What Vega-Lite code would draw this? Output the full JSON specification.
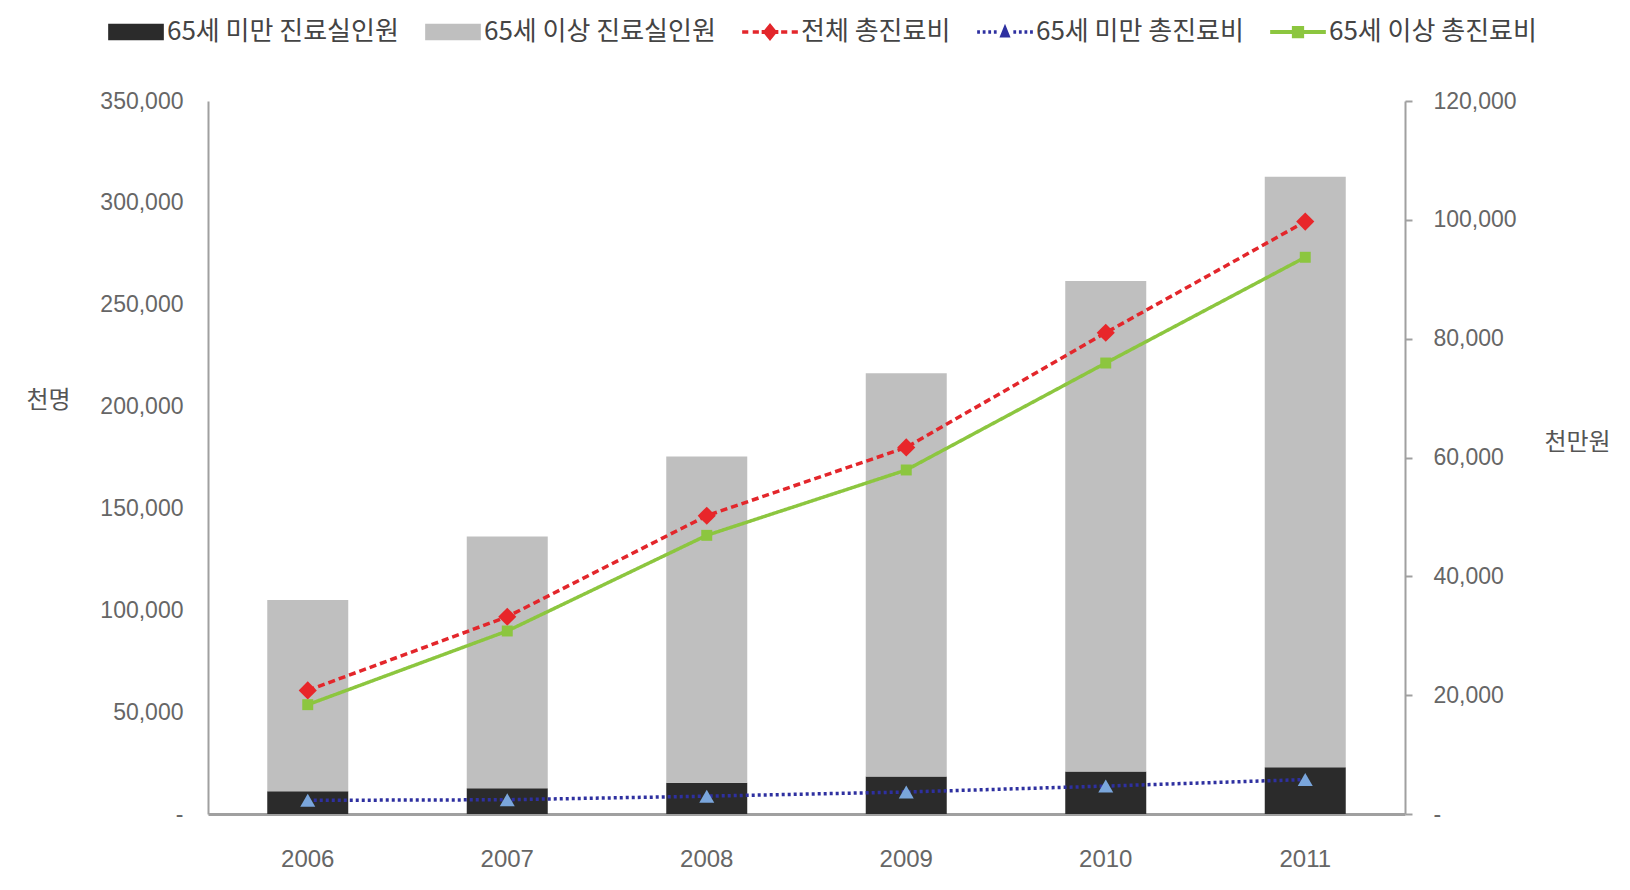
{
  "$schema": "https://vega.github.io/schema/vega-lite/v6.json",
  "width": 1197,
  "height": 713,
  "autosize": "none",
  "padding": {"left": 208, "top": 101, "right": 225, "bottom": 76},
  "background": "white",
  "config": {
    "font": "Noto Sans CJK KR",
    "view": {"stroke": null},
    "axis": {"labelFont": "Liberation Sans", "labelColor": "#666666", "labelFontSize": 23, "titleFont": "Noto Sans CJK KR", "titleColor": "#555555", "titleFontSize": 24, "titleFontWeight": "normal", "grid": false}
  },
  "datasets": {
    "people": [
      {"year": "2006", "series": "65세 미만 진료실인원", "value": 11200, "ord": 1},
      {"year": "2006", "series": "65세 이상 진료실인원", "value": 93900, "ord": 2},
      {"year": "2007", "series": "65세 미만 진료실인원", "value": 12700, "ord": 1},
      {"year": "2007", "series": "65세 이상 진료실인원", "value": 123500, "ord": 2},
      {"year": "2008", "series": "65세 미만 진료실인원", "value": 15300, "ord": 1},
      {"year": "2008", "series": "65세 이상 진료실인원", "value": 160200, "ord": 2},
      {"year": "2009", "series": "65세 미만 진료실인원", "value": 18400, "ord": 1},
      {"year": "2009", "series": "65세 이상 진료실인원", "value": 197900, "ord": 2},
      {"year": "2010", "series": "65세 미만 진료실인원", "value": 20900, "ord": 1},
      {"year": "2010", "series": "65세 이상 진료실인원", "value": 240800, "ord": 2},
      {"year": "2011", "series": "65세 미만 진료실인원", "value": 23000, "ord": 1},
      {"year": "2011", "series": "65세 이상 진료실인원", "value": 289800, "ord": 2}
    ],
    "cost": [
      {"year": "2006", "series": "전체 총진료비", "value": 20800},
      {"year": "2007", "series": "전체 총진료비", "value": 33200},
      {"year": "2008", "series": "전체 총진료비", "value": 50200},
      {"year": "2009", "series": "전체 총진료비", "value": 61700},
      {"year": "2010", "series": "전체 총진료비", "value": 81000},
      {"year": "2011", "series": "전체 총진료비", "value": 99700},
      {"year": "2006", "series": "65세 미만 총진료비", "value": 2300},
      {"year": "2007", "series": "65세 미만 총진료비", "value": 2400},
      {"year": "2008", "series": "65세 미만 총진료비", "value": 3000},
      {"year": "2009", "series": "65세 미만 총진료비", "value": 3700},
      {"year": "2010", "series": "65세 미만 총진료비", "value": 4700},
      {"year": "2011", "series": "65세 미만 총진료비", "value": 5800},
      {"year": "2006", "series": "65세 이상 총진료비", "value": 18400},
      {"year": "2007", "series": "65세 이상 총진료비", "value": 30800},
      {"year": "2008", "series": "65세 이상 총진료비", "value": 46900},
      {"year": "2009", "series": "65세 이상 총진료비", "value": 57900},
      {"year": "2010", "series": "65세 이상 총진료비", "value": 75900},
      {"year": "2011", "series": "65세 이상 총진료비", "value": 93700}
    ]
  },
  "encoding": {
    "x": {
      "field": "year", "type": "nominal",
      "scale": {"paddingInner": 0.594, "paddingOuter": 0.297},
      "axis": {"title": null, "labelAngle": 0, "ticks": false, "domainColor": "#a0a0a0", "domainWidth": 3, "labelPadding": 33, "labelFontSize": 24}
    }
  },
  "layer": [
    {
      "data": {"name": "people"},
      "mark": {"type": "bar"},
      "encoding": {
        "y": {
          "field": "value", "type": "quantitative", "stack": "zero",
          "scale": {"domain": [0, 350000], "nice": false},
          "axis": {
            "orient": "left", "title": "천명", "titleAngle": 0, "titleX": -160, "titleY": 311,
            "values": [0, 50000, 100000, 150000, 200000, 250000, 300000, 350000],
            "labelExpr": "datum.value == 0 ? '-' : format(datum.value, ',')",
            "ticks": false, "labelPadding": 25, "domainColor": "#a0a0a0", "domainWidth": 2
          }
        },
        "order": {"field": "ord", "type": "quantitative"},
        "color": {
          "field": "series", "type": "nominal",
          "scale": {
            "domain": ["65세 미만 진료실인원", "65세 이상 진료실인원", "전체 총진료비", "65세 미만 총진료비", "65세 이상 총진료비"],
            "range": ["#2b2b2b", "#bfbfbf", "#e3262b", "#2e30a0", "#8cc63f"]
          },
          "legend": {
            "title": null, "orient": "none", "direction": "horizontal",
            "legendX": -100, "legendY": -97,
            "symbolSize": 3100, "labelFontSize": 26, "labelColor": "#444444", "labelOffset": 3,
            "labelLimit": 0,
            "columnPadding": 26,
            "labelFont": "Noto Sans CJK KR",
            "encode": {
              "symbols": {
                "update": {
                  "shape": {"signal": "indexof(['65세 미만 진료실인원','65세 이상 진료실인원'], datum.value) >= 0 ? 'M-1,-0.3H1V0.3H-1Z' : datum.value == '전체 총진료비' ? 'M-1,-0.06H-0.78V0.06H-1Z M-0.62,-0.06H-0.4V0.06H-0.62Z M0.4,-0.06H0.62V0.06H0.4Z M0.78,-0.06H1V0.06H0.78Z M0,-0.32L0.26,0L0,0.32L-0.26,0Z M-0.3,-0.07H0.3V0.07H-0.3Z' : datum.value == '65세 미만 총진료비' ? 'M-1,-0.06H-0.9V0.06H-1Z M-0.8,-0.06H-0.7V0.06H-0.8Z M-0.6,-0.06H-0.5V0.06H-0.6Z M-0.4,-0.06H-0.3V0.06H-0.4Z M0.3,-0.06H0.4V0.06H0.3Z M0.5,-0.06H0.6V0.06H0.5Z M0.7,-0.06H0.8V0.06H0.7Z M0.9,-0.06H1V0.06H0.9Z M0,-0.3L0.2,0.2L-0.2,0.2Z' : 'M-1,-0.07H1V0.07H-1Z M-0.22,-0.22H0.22V0.22H-0.22Z'"},
                  "fill": {"signal": "scale('color', datum.value)"},
                  "stroke": {"value": "transparent"},
                  "strokeWidth": {"value": 0},
                  "opacity": {"value": 1},
                  "fillOpacity": {"value": 1}
                }
              }
            }
          }
        }
      }
    },
    {
      "data": {"name": "cost"},
      "encoding": {
        "y": {
          "field": "value", "type": "quantitative",
          "scale": {"domain": [0, 120000], "nice": false},
          "axis": {
            "orient": "right", "title": "천만원", "titleAngle": 0, "titleX": 172, "titleY": 353,
            "values": [0, 20000, 40000, 60000, 80000, 100000, 120000],
            "labelExpr": "datum.value == 0 ? '-' : format(datum.value, ',')",
            "ticks": true, "tickSize": 7, "tickColor": "#a0a0a0", "tickWidth": 2,
            "labelPadding": 21, "domainColor": "#a0a0a0", "domainWidth": 2
          }
        }
      },
      "layer": [
        {
          "mark": {"type": "line", "strokeWidth": 3.5},
          "encoding": {
            "color": {"field": "series", "type": "nominal"},
            "strokeDash": {
              "field": "series", "type": "nominal",
              "scale": {"domain": ["전체 총진료비", "65세 미만 총진료비", "65세 이상 총진료비"], "range": [[7, 4], [3, 3], [1, 0]]},
              "legend": null
            }
          }
        },
        {
          "mark": {"type": "point", "filled": true, "opacity": 1},
          "encoding": {
            "shape": {
              "field": "series", "type": "nominal",
              "scale": {"domain": ["전체 총진료비", "65세 미만 총진료비", "65세 이상 총진료비"], "range": ["diamond", "triangle-up", "square"]},
              "legend": null
            },
            "fill": {
              "field": "series", "type": "nominal",
              "scale": {"domain": ["전체 총진료비", "65세 미만 총진료비", "65세 이상 총진료비"], "range": ["#e8262a", "#7aa6dc", "#8cc63f"]},
              "legend": null
            },
            "size": {
              "field": "series", "type": "nominal",
              "scale": {"domain": ["전체 총진료비", "65세 미만 총진료비", "65세 이상 총진료비"], "range": [330, 120, 260]},
              "legend": null
            }
          }
        }
      ]
    }
  ],
  "resolve": {"scale": {"y": "independent"}}
}
